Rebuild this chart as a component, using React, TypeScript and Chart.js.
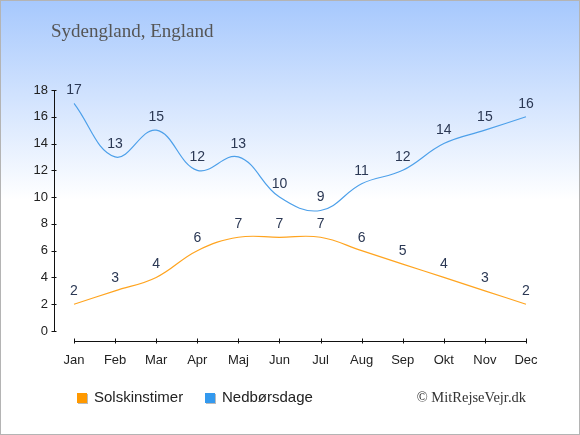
import React, { useEffect, useRef } from "react";
import { Chart, registerables } from "chart.js";

Chart.register(...registerables);

const months = ["Jan", "Feb", "Mar", "Apr", "Maj", "Jun", "Jul", "Aug", "Sep", "Okt", "Nov", "Dec"];
const sunHours = [2, 3, 4, 6, 7, 7, 7, 6, 5, 4, 3, 2];
const rainDays = [17, 13, 15, 12, 13, 10, 9, 11, 12, 14, 15, 16];
const yTicks = [0, 2, 4, 6, 8, 10, 12, 14, 16, 18];
const seriesNames = ["Solskinstimer", "Nedbørsdage"];
const lineColors = ["#ffa41f", "#4da0ea"];
const legendColors = ["#ff9900", "#3399ee"];
const titleText = "Sydengland, England";
const creditText = "© MitRejseVejr.dk";

const W = 580;
const H = 435;
const SANS = "'Liberation Sans', Arial, sans-serif";
const SERIF = "'Liberation Serif', 'Times New Roman', serif";

const decorPlugin = {
  id: "decor",
  beforeDraw(chart: any) {
    const ctx = chart.ctx as CanvasRenderingContext2D;
    ctx.save();
    const g = ctx.createLinearGradient(0, 0, 0, 200);
    g.addColorStop(0, "#a6c8fd");
    g.addColorStop(1, "#ffffff");
    ctx.fillStyle = "#ffffff";
    ctx.fillRect(0, 0, W, H);
    ctx.fillStyle = g;
    ctx.fillRect(0, 0, W, 200);
    ctx.strokeStyle = "#b4b4b4";
    ctx.lineWidth = 1;
    ctx.strokeRect(0.5, 0.5, W - 1, H - 1);
    ctx.restore();
  },
  afterDraw(chart: any) {
    const ctx = chart.ctx as CanvasRenderingContext2D;
    const x = chart.scales.x;
    const y = chart.scales.y;
    const area = chart.chartArea;
    ctx.save();
    ctx.strokeStyle = "#111";
    ctx.lineWidth = 1;
    const ax = 54.5;
    ctx.beginPath();
    ctx.moveTo(ax, y.getPixelForValue(18));
    ctx.lineTo(ax, y.getPixelForValue(0));
    for (const t of yTicks) {
      const py = Math.round(y.getPixelForValue(t)) + 0.5;
      ctx.moveTo(ax - 3, py);
      ctx.lineTo(ax + 2, py);
    }
    const ay = 341.5;
    ctx.moveTo(area.left, ay);
    ctx.lineTo(area.right, ay);
    months.forEach((_, i) => {
      const px = Math.round(x.getPixelForValue(i)) + 0.5;
      ctx.moveTo(px, ay - 3);
      ctx.lineTo(px, ay + 2);
    });
    ctx.stroke();

    ctx.fillStyle = "#555555";
    ctx.font = `19px ${SERIF}`;
    ctx.textAlign = "left";
    ctx.textBaseline = "middle";
    ctx.fillText(titleText, 51, 32);

    ctx.fillStyle = "#333333";
    ctx.font = `14.5px ${SERIF}`;
    ctx.textAlign = "right";
    ctx.fillText(creditText, 526, 398);

    const lx = [77, 205];
    seriesNames.forEach((name, i) => {
      ctx.fillStyle = "#bbbbbb";
      ctx.fillRect(lx[i] + 1, 394, 10, 10);
      ctx.fillStyle = legendColors[i];
      ctx.fillRect(lx[i], 393, 10, 10);
      ctx.fillStyle = "#222222";
      ctx.font = `15px ${SANS}`;
      ctx.textAlign = "left";
      ctx.fillText(name, lx[i] + 17, 398);
    });
    ctx.restore();
  },
  afterDatasetsDraw(chart: any) {
    const ctx = chart.ctx as CanvasRenderingContext2D;
    ctx.save();
    ctx.fillStyle = "#2b3854";
    ctx.font = `14px ${SANS}`;
    ctx.textAlign = "center";
    ctx.textBaseline = "middle";
    chart.data.datasets.forEach((ds: any, di: number) => {
      const meta = chart.getDatasetMeta(di);
      meta.data.forEach((pt: any, i: number) => {
        ctx.fillText(String(ds.data[i]), pt.x, pt.y - 13);
      });
    });
    ctx.restore();
  },
};

export default function App() {
  const ref = useRef<HTMLCanvasElement | null>(null);
  useEffect(() => {
    if (!ref.current) return;
    const chart = new Chart(ref.current, {
      type: "line",
      data: {
        labels: months,
        datasets: [
          {
            label: seriesNames[0],
            data: sunHours,
            borderColor: lineColors[0],
            borderWidth: 1.2,
            pointRadius: 0,
            tension: 0.4,
            fill: false,
          },
          {
            label: seriesNames[1],
            data: rainDays,
            borderColor: lineColors[1],
            borderWidth: 1.2,
            pointRadius: 0,
            tension: 0.4,
            fill: false,
          },
        ],
      },
      options: {
        responsive: false,
        animation: false,
        devicePixelRatio: 1,
        layout: { padding: { left: 24, right: 54, top: 90, bottom: 54 } },
        plugins: {
          legend: { display: false },
          title: { display: false },
          tooltip: { enabled: false },
        },
        scales: {
          x: {
            type: "category",
            offset: false,
            grid: { display: false },
            border: { display: false },
            ticks: {
              color: "#222222",
              font: { family: SANS, size: 13 },
              padding: 14,
              maxRotation: 0,
              autoSkip: false,
            },
            afterFit(s: any) {
              s.height = 50;
            },
          },
          y: {
            min: 0,
            max: 18,
            grid: { display: false },
            border: { display: false },
            ticks: {
              stepSize: 2,
              color: "#222222",
              font: { family: SANS, size: 13 },
              padding: 18,
            },
            afterFit(s: any) {
              s.width = 50;
            },
          },
        },
      } as any,
      plugins: [decorPlugin],
    });
    return () => chart.destroy();
  }, []);
  return (
    <div style={{ position: "absolute", left: 0, top: 0, width: W, height: H }}>
      <canvas ref={ref} width={W} height={H} style={{ width: W, height: H, display: "block" }} />
    </div>
  );
}
